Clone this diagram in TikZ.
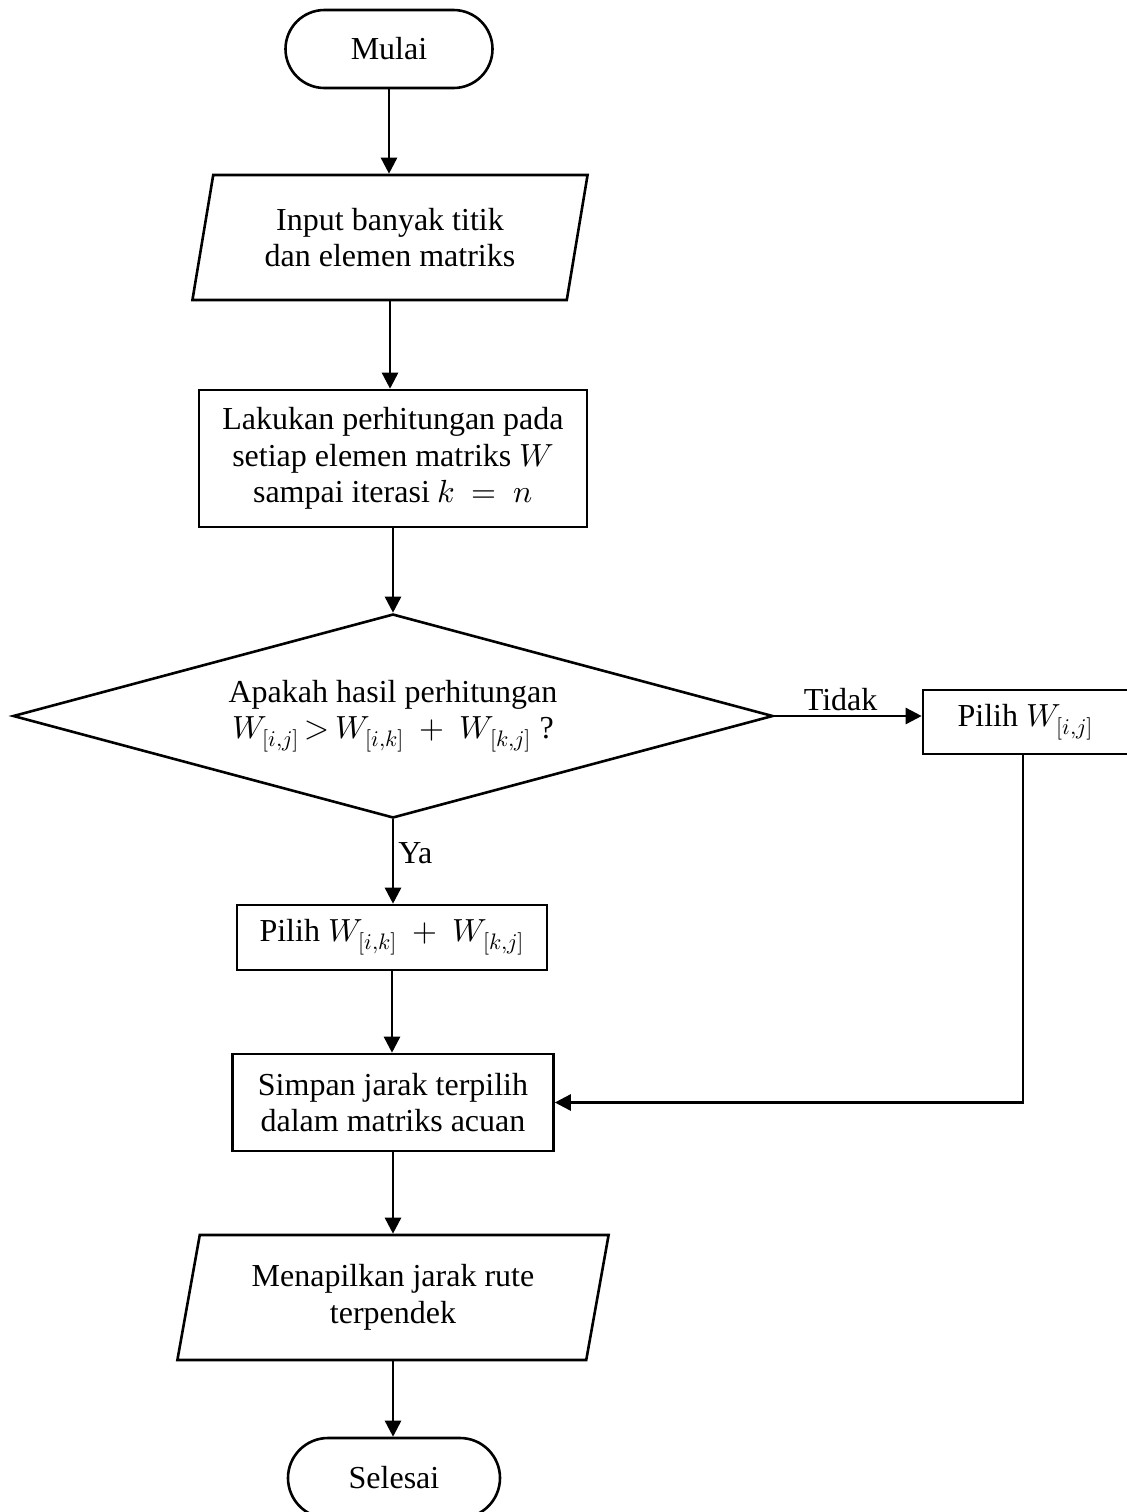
\documentclass[tikz,border=0pt]{standalone}
\usepackage{fontspec}
\usepackage{unicode-math}
\setmainfont{Liberation Serif}
\usetikzlibrary{shapes.geometric,shapes.misc,arrows.meta}
\tikzset{
  base/.style={draw=black, line width=1.3pt, font=\fontsize{16}{18.3}\selectfont, align=center, inner sep=0pt},
  term/.style={base, rounded rectangle},
  io/.style={base, trapezium, trapezium left angle=76, trapezium right angle=104, trapezium stretches=true},
  proc/.style={base, rectangle},
  decide/.style={base, diamond, aspect=3.7},
  lbl/.style={font=\fontsize{16}{18.3}\selectfont, inner sep=2pt},
  arr/.style={line width=1.3pt, -{Triangle[length=8pt,width=8pt]}}
}
\begin{document}
\begin{tikzpicture}[x=0.5pt,y=-0.5pt]
\useasboundingbox (0,0) rectangle (1126,1512);
\node[term, minimum width=103.5pt, minimum height=39pt] (mulai) at (389,49) {Mulai};
\node[io, minimum width=198pt, minimum height=62.5pt] (input) at (390,237.5) {Input banyak titik\\dan elemen matriks};
\node[proc, minimum width=194pt, minimum height=68.5pt] (lakukan) at (393,458.5) {Lakukan perhitungan pada\\setiap elemen matriks $W$\\sampai iterasi $k\ =\ n$};
\node[decide, minimum width=380pt, minimum height=102pt] (dec) at (393,716) {Apakah hasil perhitungan\\$W_{[i,j]}\,{>}\,W_{[i,k]}\ +\ W_{[k,j]}$ ?};
\node[proc, minimum width=102.5pt, minimum height=32pt] (pilihij) at (1025.5,722) {Pilih $W_{[i,j]}$};
\node[proc, minimum width=155pt, minimum height=32.5pt] (pilihsum) at (392,937.5) {Pilih $W_{[i,k]}\ +\ W_{[k,j]}$};
\node[proc, minimum width=160.5pt, minimum height=48.5pt] (simpan) at (393,1102.5) {Simpan jarak terpilih\\dalam matriks acuan};
\node[io, minimum width=216pt, minimum height=62.5pt] (output) at (393,1297.5) {Menapilkan jarak rute\\terpendek};
\node[term, minimum width=106pt, minimum height=40pt] (selesai) at (394,1478) {Selesai};

\draw[arr] (mulai.south) -- (mulai.south |- input.north);
\draw[arr] (input.south) -- (input.south |- lakukan.north);
\draw[arr] (lakukan.south) -- (lakukan.south |- dec.north);
\draw[arr] (dec.east) -- node[lbl, above, pos=0.45] {Tidak} (dec.east -| pilihij.west);
\draw[arr] (dec.south) -- node[lbl, right, pos=0.4] {Ya} (dec.south |- pilihsum.north);
\draw[arr] (pilihsum.south) -- (pilihsum.south |- simpan.north);
\draw[arr] ([xshift=-1.25pt]pilihij.south) |- (simpan.east);
\draw[arr] (simpan.south) -- (simpan.south |- output.north);
\draw[arr] (output.south) -- (output.south |- selesai.north);
\end{tikzpicture}
\end{document}
